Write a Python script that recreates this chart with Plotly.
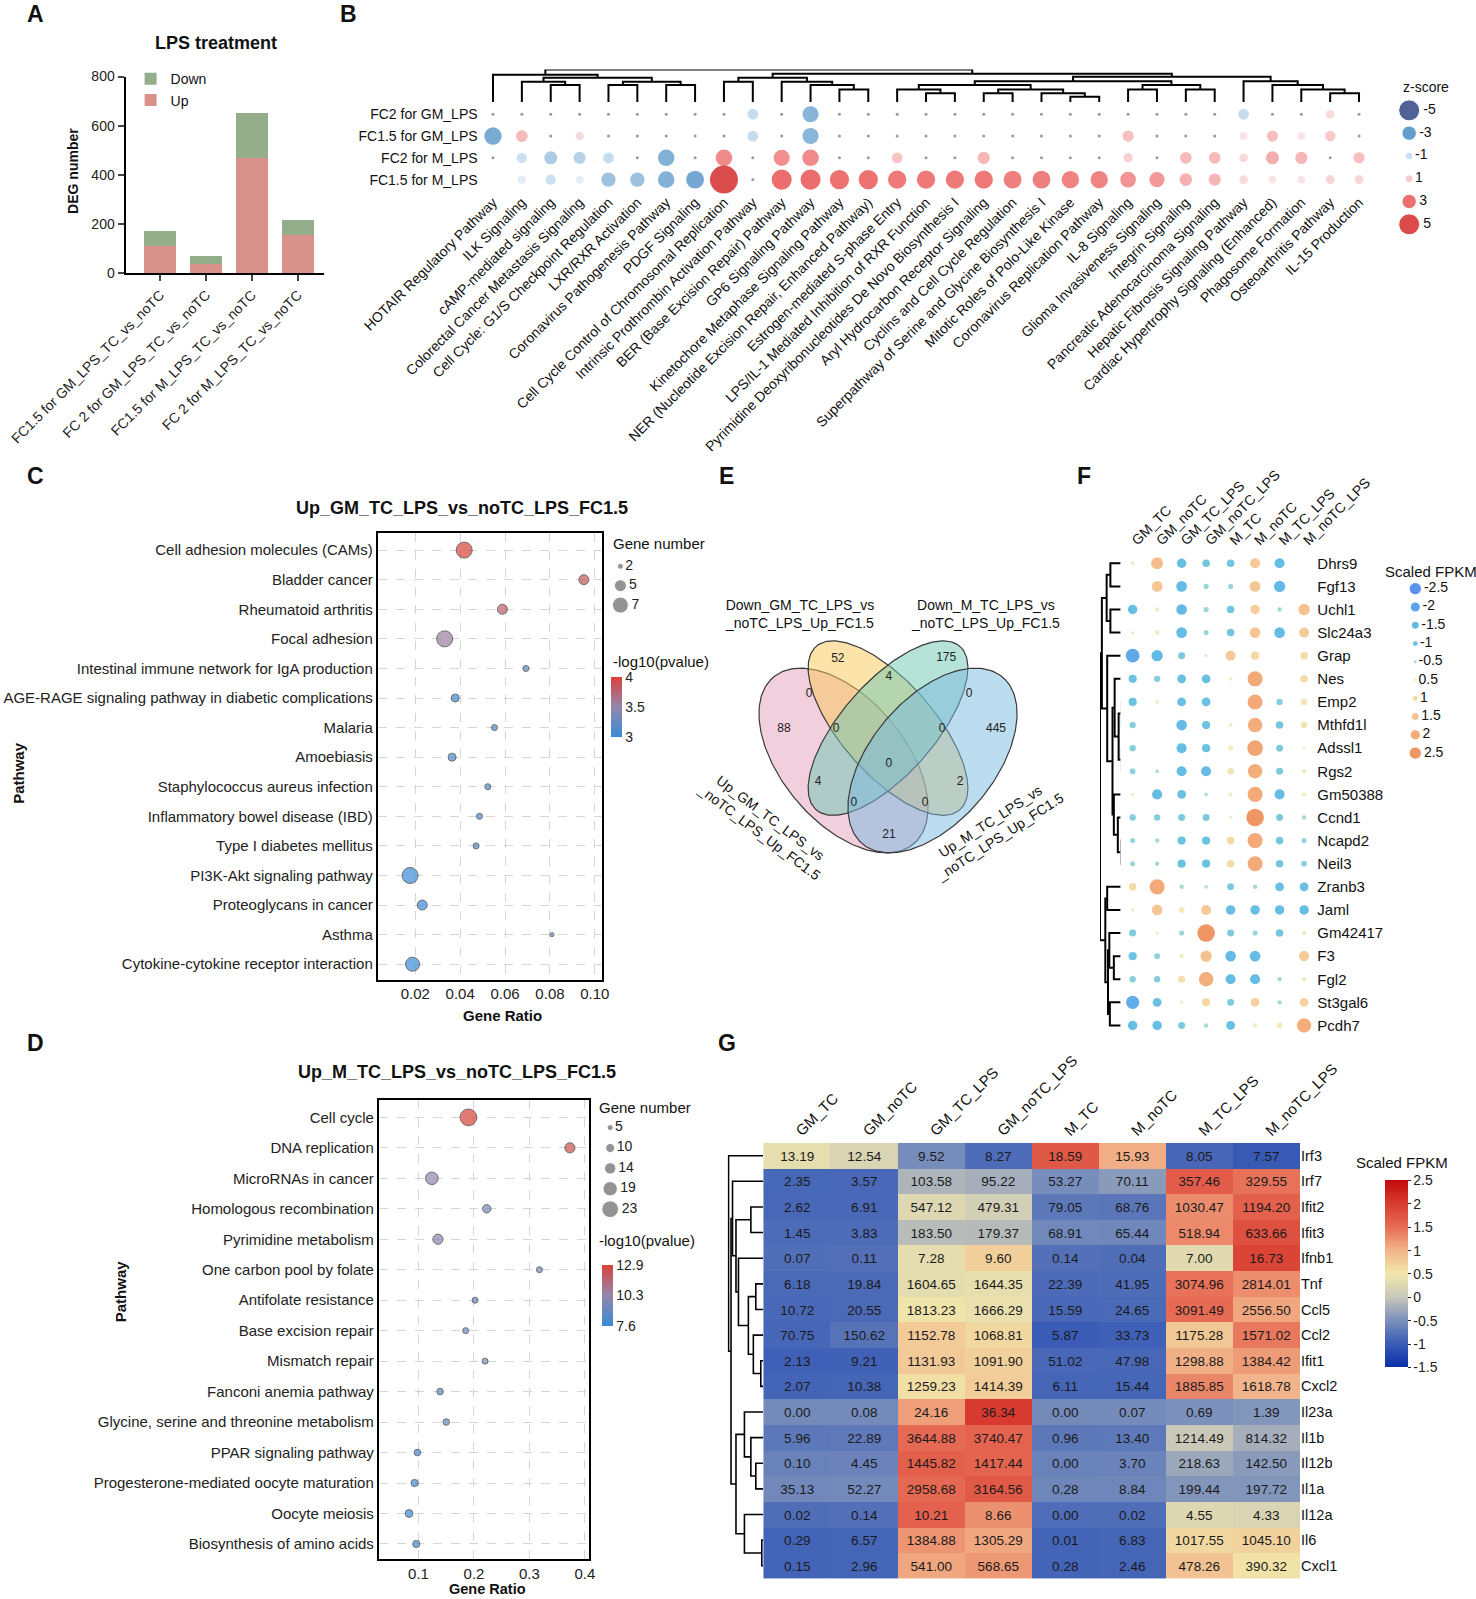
import numpy as np
import plotly.graph_objects as go

W, H = 1476, 1599
SC = 0.98  # positions below are measured on the reference at this display scale
FONT = "Liberation Sans, Arial, sans-serif"
NARROW = "Liberation Sans Narrow, Arial Narrow, Liberation Sans, Arial, sans-serif"

# ---------------- Panel A data ----------------
a_categories = ["FC1.5 for GM_LPS_TC_vs_noTC", "FC 2 for GM_LPS_TC_vs_noTC",
                "FC1.5 for M_LPS_TC_vs_noTC", "FC 2 for M_LPS_TC_vs_noTC"]
a_up = [110, 37, 469, 155]
a_down = [61, 32, 184, 61]

# ---------------- Panel B data ----------------
b_rows = ["FC2 for GM_LPS", "FC1.5 for GM_LPS", "FC2 for M_LPS", "FC1.5 for M_LPS"]
b_pathways = [
    "HOTAIR Regulatory Pathway", "ILK Signaling", "cAMP-mediated signaling",
    "Colorectal Cancer Metastasis Signaling", "Cell Cycle: G1/S Checkpoint Regulation",
    "LXR/RXR Activation", "Coronavirus Pathogenesis Pathway", "PDGF Signaling",
    "Cell Cycle Control of Chromosomal Replication", "Intrinsic Prothrombin Activation Pathway",
    "BER (Base Excision Repair) Pathway", "GP6 Signaling Pathway",
    "Kinetochore Metaphase Signaling Pathway", "NER (Nucleotide Excision Repair, Enhanced Pathway)",
    "Estrogen-mediated S-phase Entry", "LPS/IL-1 Mediated Inhibition of RXR Function",
    "Pyrimidine Deoxyribonucleotides De Novo Biosynthesis I", "Aryl Hydrocarbon Receptor Signaling",
    "Cyclins and Cell Cycle Regulation", "Superpathway of Serine and Glycine Biosynthesis I",
    "Mitotic Roles of Polo-Like Kinase", "Coronavirus Replication Pathway", "IL-8 Signaling",
    "Glioma Invasiveness Signaling", "Integrin Signaling", "Pancreatic Adenocarcinoma Signaling",
    "Hepatic Fibrosis Signaling Pathway", "Cardiac Hypertrophy Signaling (Enhanced)",
    "Phagosome Formation", "Osteoarthritis Pathway", "IL-15 Production"]
# z-scores (0 = not significant tiny dot, None = absent)
b_fc2_gm = [0, 0, 0, 0, 0, 0, 0, 0, 0, -1.1, 0, -2.3, 0, 0, 0, 0, 0, 0, 0, 0, 0, 0, 0, 0, 0, 0, -1.1, 0, 0, 0.6, 0]
b_fc15_gm = [-2.6, 1.3, 0, 0.6, 0, 0, 0, 0, 0, -1.1, 0, -2.3, 0, 0, 0, 0, 0, 0, 0, 0, 0, 0, 1.2, 0, 0, 0, 0.4, 1.2, 0.4, 1.0, 0]
b_fc2_m = [0, -1.0, -1.6, -1.4, -1.1, 0, -2.4, 0, 2.4, 0, 2.3, 2.4, 0, 0, 1.1, 0, 0, 1.4, 0, 0, 0, 0, 0.8, 0, 1.3, 1.3, 0.6, 1.6, 1.4, 0, 1.2]
b_fc15_m = [None, -0.5, -1.0, -0.4, -1.9, -1.9, -2.4, -2.7, 5.0, 0, 3.2, 3.2, 3.0, 3.0, 2.8, 2.8, 2.8, 2.8, 2.7, 2.7, 2.6, 2.6, 2.2, 2.1, 1.5, 1.4, 0.6, 0.4, 0.4, 0.7, 0.7]
b_legend = [-5, -3, -1, 1, 3, 5]
# column dendrogram: [left, right, height]
b_tree = [[1, [[2, [3, 4, 57], 68], [[5, 6, 57], [7, 8, 57], 68], 82], 92],
          [[[9, 10, 68], [11, [12, [13, 14, 42], 57], 68], 82],
           [[[[15, [16, 17, 30], 42], [[18, 19, 30], [20, [21, 22, 18], 30], 42], 57],
             [[23, 24, 42], [25, 26, 42], 57], 70],
            [27, [28, [29, [30, 31, 30], 42], 57], 70], 85], 95], 110]

# ---------------- Panel C data ----------------
c_pathways = ["Cell adhesion molecules (CAMs)", "Bladder cancer", "Rheumatoid arthritis", "Focal adhesion",
              "Intestinal immune network for IgA production",
              "AGE-RAGE signaling pathway in diabetic complications", "Malaria", "Amoebiasis",
              "Staphylococcus aureus infection", "Inflammatory bowel disease (IBD)",
              "Type I diabetes mellitus", "PI3K-Akt signaling pathway", "Proteoglycans in cancer",
              "Asthma", "Cytokine-cytokine receptor interaction"]
c_ratio = [0.0418, 0.0951, 0.0588, 0.0331, 0.0693, 0.0378, 0.0553, 0.0364, 0.0523, 0.0486,
           0.0471, 0.0177, 0.0231, 0.0809, 0.0188]
c_count = [7, 4, 4, 7, 2, 3, 2, 3, 2, 2, 2, 7, 4, 1, 6]
c_logp = [4.0, 3.85, 3.8, 3.55, 3.2, 3.05, 3.15, 3.1, 3.15, 3.1, 3.1, 3.0, 3.0, 3.3, 3.0]
c_size_legend = [2, 5, 7]

# ---------------- Panel D data ----------------
d_pathways = ["Cell cycle", "DNA replication", "MicroRNAs in cancer", "Homologous recombination",
              "Pyrimidine metabolism", "One carbon pool by folate", "Antifolate resistance",
              "Base excision repair", "Mismatch repair", "Fanconi anemia pathway",
              "Glycine, serine and threonine metabolism", "PPAR signaling pathway",
              "Progesterone-mediated oocyte maturation", "Oocyte meiosis", "Biosynthesis of amino acids"]
d_ratio = [0.190, 0.373, 0.124, 0.223, 0.135, 0.318, 0.202, 0.185, 0.220, 0.139, 0.150, 0.098,
           0.093, 0.083, 0.096]
d_count = [23, 12, 16, 9, 12, 5, 5, 5, 5, 6, 6, 6, 7, 8, 7]
d_logp = [12.9, 12.4, 10.3, 9.4, 9.9, 9.3, 8.9, 8.8, 9.3, 8.6, 8.8, 7.9, 7.8, 7.6, 7.8]
d_size_legend = [5, 10, 14, 19, 23]

# ---------------- Panel E data ----------------
venn_sets = ["Up_GM_TC_LPS_vs<br>_noTC_LPS_Up_FC1.5", "Down_GM_TC_LPS_vs<br>_noTC_LPS_Up_FC1.5",
             "Down_M_TC_LPS_vs<br>_noTC_LPS_Up_FC1.5", "Up_M_TC_LPS_vs<br>_noTC_LPS_Up_FC1.5"]
venn_counts = [52, 175, 4, 0, 0, 88, 0, 0, 445, 0, 4, 2, 0, 0, 21]

# ---------------- Panel F data ----------------
f_samples = ["GM_TC", "GM_noTC", "GM_TC_LPS", "GM_noTC_LPS", "M_TC", "M_noTC", "M_TC_LPS", "M_noTC_LPS"]
f_genes = ["Dhrs9", "Fgf13", "Uchl1", "Slc24a3", "Grap", "Nes", "Emp2", "Mthfd1l", "Adssl1", "Rgs2",
           "Gm50388", "Ccnd1", "Ncapd2", "Neil3", "Zranb3", "Jaml", "Gm42417", "F3", "Fgl2",
           "St3gal6", "Pcdh7"]
f_scaled = [
    [0.3, 1.6, -1.2, -0.9, -0.9, 1.3, -1.3, 0.0],
    [0.0, 1.4, -1.4, -0.5, -0.5, 1.4, -1.5, 0.0],
    [-1.2, 0.4, -1.4, -0.5, -0.9, 1.2, -0.4, 1.5],
    [0.2, 0.4, -1.4, -0.5, -0.9, 1.4, -1.4, 1.3],
    [-1.9, -1.5, -0.8, 0.2, 1.3, 1.0, 0.0, 0.9],
    [-1.0, -0.7, -1.1, -1.1, 0.3, 2.1, 0.0, 0.9],
    [-1.0, 0.3, -1.1, -1.1, 0.0, 2.1, -0.7, 0.7],
    [-0.7, 0.0, -1.4, -1.0, 0.3, 2.0, -0.9, 0.7],
    [-0.7, 0.0, -1.3, -1.0, 0.5, 2.2, -0.8, 0.1],
    [-0.6, -0.3, -1.3, -1.3, 0.7, 2.0, -0.8, 0.4],
    [0.2, -1.3, -1.1, -0.3, 0.3, 2.1, -1.3, 0.4],
    [-0.7, -0.7, -0.8, -0.8, 0.2, 2.5, -0.8, -0.4],
    [-0.5, -0.4, -1.0, -1.0, 0.9, 2.1, -0.9, -0.5],
    [-0.5, -0.4, -1.0, -1.0, 0.9, 2.1, -0.9, -0.6],
    [0.9, 2.1, -0.4, -0.3, -0.8, -0.4, -1.1, -1.1],
    [0.2, 1.4, 0.6, 1.3, -1.2, -1.2, -1.2, -1.2],
    [-0.8, 0.2, -0.5, 2.5, -0.8, -0.5, -0.9, 0.4],
    [-1.0, -0.6, 0.4, 1.5, -1.4, -1.4, 0.0, 1.3],
    [-0.7, -0.7, 0.8, 2.0, -1.3, -1.3, -0.4, 0.4],
    [-1.8, -1.1, 0.2, 1.0, -0.8, 1.1, -0.4, 1.1],
    [-1.2, -1.2, -0.8, -0.4, -1.1, 0.4, 0.6, 2.0],
]
f_legend = [-2.5, -2, -1.5, -1, -0.5, 0.5, 1, 1.5, 2, 2.5]
f_tree = [[[["Dhrs9", "Fgf13", 53], ["Uchl1", "Slc24a3", 53], 67],
           ["Grap", [["Nes", [["Emp2", "Mthfd1l", 10], ["Adssl1", "Rgs2", 10], 22], 37],
                     ["Gm50388", ["Ccnd1", ["Ncapd2", "Neil3", 12], 25], 40], 45], 65], 85],
          [["Zranb3", "Jaml", 65],
           [["Gm42417", ["F3", "Fgl2", 40], 57], ["St3gal6", "Pcdh7", 55], 62], 72], 92]

# ---------------- Panel G data ----------------
g_samples = ["GM_TC", "GM_noTC", "GM_TC_LPS", "GM_noTC_LPS", "M_TC", "M_noTC", "M_TC_LPS", "M_noTC_LPS"]
g_genes = ["Irf3", "Irf7", "Ifit2", "Ifit3", "Ifnb1", "Tnf", "Ccl5", "Ccl2", "Ifit1", "Cxcl2",
           "Il23a", "Il1b", "Il12b", "Il1a", "Il12a", "Il6", "Cxcl1"]
g_fpkm = [
    [13.19, 12.54, 9.52, 8.27, 18.59, 15.93, 8.05, 7.57],
    [2.35, 3.57, 103.58, 95.22, 53.27, 70.11, 357.46, 329.55],
    [2.62, 6.91, 547.12, 479.31, 79.05, 68.76, 1030.47, 1194.20],
    [1.45, 3.83, 183.50, 179.37, 68.91, 65.44, 518.94, 633.66],
    [0.07, 0.11, 7.28, 9.60, 0.14, 0.04, 7.00, 16.73],
    [6.18, 19.84, 1604.65, 1644.35, 22.39, 41.95, 3074.96, 2814.01],
    [10.72, 20.55, 1813.23, 1666.29, 15.59, 24.65, 3091.49, 2556.50],
    [70.75, 150.62, 1152.78, 1068.81, 5.87, 33.73, 1175.28, 1571.02],
    [2.13, 9.21, 1131.93, 1091.90, 51.02, 47.98, 1298.88, 1384.42],
    [2.07, 10.38, 1259.23, 1414.39, 6.11, 15.44, 1885.85, 1618.78],
    [0.00, 0.08, 24.16, 36.34, 0.00, 0.07, 0.69, 1.39],
    [5.96, 22.89, 3644.88, 3740.47, 0.96, 13.40, 1214.49, 814.32],
    [0.10, 4.45, 1445.82, 1417.44, 0.00, 3.70, 218.63, 142.50],
    [35.13, 52.27, 2958.68, 3164.56, 0.28, 8.84, 199.44, 197.72],
    [0.02, 0.14, 10.21, 8.66, 0.00, 0.02, 4.55, 4.33],
    [0.29, 6.57, 1384.88, 1305.29, 0.01, 6.83, 1017.55, 1045.10],
    [0.15, 2.96, 541.00, 568.65, 0.28, 2.46, 478.26, 390.32],
]
g_cbar_ticks = [-1.5, -1, -0.5, 0, 0.5, 1, 1.5, 2, 2.5]
g_tree = ["Irf3",
          [["Irf7", [["Ifit2", "Ifit3", 25],
                     ["Ifnb1", [["Tnf", "Ccl5", 15], ["Ccl2", ["Ifit1", "Cxcl2", 5], 20], 30], 50], 55], 62],
           [["Il23a", ["Il1b", ["Il12b", "Il1a", 15], 25], 38], ["Il12a", ["Il6", "Cxcl1", 3], 38], 55], 65],
          70]


# ---------------- helpers (coordinates given in reference display pixels) ----------------
def px_x(a):
    return a / (W * SC)


def px_y(b):
    return 1 - b / (H * SC)


def dom_x(a, b):
    return [px_x(a), px_x(b)]


def dom_y(top, bottom):
    return [px_y(bottom), px_y(top)]


def pxl(n):
    return n / SC


def dendro_lines(tree, pos):
    seg_p, seg_h = [], []

    def walk(node):
        if isinstance(node, list):
            left, right, h = node
            pl, hl = walk(left)
            pr, hr = walk(right)
            seg_p.extend([pl, pl, pr, pr, None])
            seg_h.extend([hl, h, h, hr, None])
            return (pl + pr) / 2, h
        return pos[node], 0

    walk(tree)
    return seg_p, seg_h


def b_size(z):
    return 6 + 4.4 * abs(z)


def f_size(v):
    return 2 + 6.2 * abs(v) if abs(v) > 0.05 else 0


def c_size(n):
    return 2 + 2 * n


def d_size(n):
    return 3 + 0.6 * n


B_SCALE = [[0.0, "#08216b"], [0.2, "#2474b7"], [0.4, "#b5d3ea"], [0.5, "#f4f4f4"],
           [0.6, "#f6b0b0"], [0.8, "#e63434"], [1.0, "#cc0000"]]
CD_SCALE = [[0.0, "#3a8bd6"], [0.5, "#9486ac"], [1.0, "#d8433a"]]
F_SCALE = [[0.0, "#1463e6"], [0.1, "#1a7fe0"], [0.2, "#1f9bdb"], [0.3, "#2ca9d4"], [0.4, "#6cc3c8"],
           [0.5, "#d2e6c0"], [0.6, "#ede7a3"], [0.7, "#f2c47c"], [0.8, "#f2a761"], [0.9, "#ef8b45"],
           [1.0, "#ea6a22"]]
G_SCALE = [[0.0, "#0b2ea8"], [0.125, "#3a5cb6"], [0.25, "#7b90bb"], [0.375, "#c8c8ba"],
           [0.5, "#f1e6aa"], [0.625, "#f2b48a"], [0.75, "#e66c55"], [0.875, "#d83a30"], [1.0, "#c20a0a"]]

fig = go.Figure()

# ---------------- A ----------------
xa = list(range(len(a_categories)))
fig.add_trace(go.Bar(x=xa, y=a_up, name="Up", marker=dict(color="#d8918b", line=dict(width=0)),
                     width=0.69, xaxis="x", yaxis="y", showlegend=True))
fig.add_trace(go.Bar(x=xa, y=a_down, name="Down", marker=dict(color="#94ad8b", line=dict(width=0)),
                     width=0.69, xaxis="x", yaxis="y", showlegend=True))

# ---------------- B ----------------
bp, bh = dendro_lines(b_tree, {i: i for i in range(1, 32)})
fig.add_trace(go.Scatter(x=bp, y=bh, mode="lines", line=dict(color="black", width=2),
                         xaxis="x2", yaxis="y2", hoverinfo="skip", showlegend=False))
b_matrix = [b_fc2_gm, b_fc15_gm, b_fc2_m, b_fc15_m]
tx, ty, cx, cy, cz = [], [], [], [], []
for r, row in enumerate(b_matrix):
    for c, v in enumerate(row):
        if v is None:
            continue
        if v == 0:
            tx.append(c + 1)
            ty.append(r + 1)
        else:
            cx.append(c + 1)
            cy.append(r + 1)
            cz.append(v)
fig.add_trace(go.Scatter(x=tx, y=ty, mode="markers", marker=dict(size=3, color="#9a9a9a"),
                         xaxis="x3", yaxis="y3", showlegend=False, cliponaxis=False))
fig.add_trace(go.Scatter(x=cx, y=cy, mode="markers",
                         marker=dict(size=[b_size(z) for z in cz], color=cz, colorscale=B_SCALE,
                                     cmin=-5, cmax=5, line=dict(width=0)),
                         xaxis="x3", yaxis="y3", showlegend=False, cliponaxis=False))
fig.add_trace(go.Scatter(x=[0] * len(b_legend), y=list(range(len(b_legend))), mode="markers+text",
                         text=[str(v) for v in b_legend], textposition="middle right",
                         textfont=dict(size=14, family=FONT, color="#111"),
                         marker=dict(size=[b_size(z) * 0.75 for z in b_legend], color=b_legend,
                                     colorscale=B_SCALE, cmin=-5, cmax=5),
                         xaxis="x4", yaxis="y4", showlegend=False, cliponaxis=False))

# ---------------- C ----------------
fig.add_trace(go.Scatter(
    x=c_ratio, y=list(range(len(c_pathways))), mode="markers",
    marker=dict(size=[c_size(n) for n in c_count], color=c_logp, colorscale=CD_SCALE, cmin=3, cmax=4,
                line=dict(color="#333333", width=1),
                colorbar=dict(x=px_x(599), xanchor="left", y=px_y(692.5), yanchor="middle",
                              len=pxl(59), lenmode="pixels", thickness=pxl(11), thicknessmode="pixels",
                              tickvals=[3, 3.5, 4], ticktext=["3", "3.5", "4"], ticks="",
                              tickfont=dict(size=14, family=NARROW, color="#222"),
                              outlinewidth=0, xpad=0, ypad=0)),
    xaxis="x5", yaxis="y5", showlegend=False, cliponaxis=False))
fig.add_trace(go.Scatter(x=[0] * 3, y=list(range(3)), mode="markers+text",
                         text=[str(v) for v in c_size_legend], textposition="middle right",
                         textfont=dict(size=14, family=NARROW, color="#222"),
                         marker=dict(size=[c_size(n) for n in c_size_legend], color="#666666"),
                         xaxis="x6", yaxis="y6", showlegend=False, cliponaxis=False))

# ---------------- D ----------------
fig.add_trace(go.Scatter(
    x=d_ratio, y=list(range(len(d_pathways))), mode="markers",
    marker=dict(size=[d_size(n) for n in d_count], color=d_logp, colorscale=CD_SCALE, cmin=7.6, cmax=12.9,
                line=dict(color="#333333", width=1),
                colorbar=dict(x=px_x(590), xanchor="left", y=px_y(1270), yanchor="middle",
                              len=pxl(60), lenmode="pixels", thickness=pxl(11), thicknessmode="pixels",
                              tickvals=[7.6, 10.3, 12.9], ticktext=["7.6", "10.3", "12.9"], ticks="",
                              tickfont=dict(size=14, family=NARROW, color="#222"),
                              outlinewidth=0, xpad=0, ypad=0)),
    xaxis="x7", yaxis="y7", showlegend=False, cliponaxis=False))
fig.add_trace(go.Scatter(x=[0] * 5, y=list(range(5)), mode="markers+text",
                         text=[str(v) for v in d_size_legend], textposition="middle right",
                         textfont=dict(size=14, family=NARROW, color="#222"),
                         marker=dict(size=[d_size(n) for n in d_size_legend], color="#666666"),
                         xaxis="x8", yaxis="y8", showlegend=False, cliponaxis=False))

# ---------------- E (Venn) ----------------
venn_ellipses = [(0.35, 0.47, 0.35, 0.20, 135, "rgba(227,160,185,0.5)"),
                 (0.50, 0.57, 0.35, 0.15, 135, "rgba(247,200,85,0.5)"),
                 (0.50, 0.57, 0.35, 0.15, 45, "rgba(110,200,178,0.5)"),
                 (0.65, 0.47, 0.35, 0.20, 45, "rgba(121,185,223,0.5)")]
t = np.linspace(0, 2 * np.pi, 240)
for (ex, ey, ea, eb, eang, ecol) in venn_ellipses:
    th = np.deg2rad(eang)
    xs = ex + ea * np.cos(t) * np.cos(th) - eb * np.sin(t) * np.sin(th)
    ys = ey + ea * np.cos(t) * np.sin(th) + eb * np.sin(t) * np.cos(th)
    fig.add_trace(go.Scatter(x=xs, y=ys, mode="lines", fill="toself", fillcolor=ecol,
                             line=dict(color="#3a3a3a", width=1.2), xaxis="x9", yaxis="y9",
                             hoverinfo="skip", showlegend=False))
venn_pos = [(0.331, 0.783), (0.696, 0.787), (0.503, 0.728), (0.234, 0.675), (0.773, 0.675),
            (0.149, 0.567), (0.325, 0.567), (0.682, 0.567), (0.864, 0.567), (0.503, 0.459),
            (0.264, 0.404), (0.743, 0.404), (0.385, 0.339), (0.625, 0.339), (0.503, 0.240)]
fig.add_trace(go.Scatter(x=[p[0] for p in venn_pos], y=[p[1] for p in venn_pos], mode="text",
                         text=[str(v) for v in venn_counts], textfont=dict(size=12, family=FONT, color="#222"),
                         xaxis="x9", yaxis="y9", showlegend=False, hoverinfo="skip"))

# ---------------- F ----------------
f_pos = {g: i for i, g in enumerate(f_genes)}
fh, fp = dendro_lines(f_tree, f_pos)
fig.add_trace(go.Scatter(x=fp, y=fh, mode="lines", line=dict(color="black", width=2),
                         xaxis="x10", yaxis="y10", hoverinfo="skip", showlegend=False))
fx_, fy_, fv_ = [], [], []
for r, row in enumerate(f_scaled):
    for c, v in enumerate(row):
        fx_.append(c)
        fy_.append(r)
        fv_.append(v)
fig.add_trace(go.Scatter(x=fx_, y=fy_, mode="markers",
                         marker=dict(size=[f_size(v) for v in fv_], color=fv_, colorscale=F_SCALE,
                                     cmin=-2.5, cmax=2.5, line=dict(width=0)),
                         xaxis="x11", yaxis="y11", showlegend=False, cliponaxis=False))
fig.add_trace(go.Scatter(x=[0] * len(f_legend), y=list(range(len(f_legend))), mode="markers+text",
                         text=[("%g" % v) for v in f_legend], textposition="middle right",
                         textfont=dict(size=14, family=FONT, color="#111"),
                         marker=dict(size=[f_size(v) * 0.7 for v in f_legend], color=f_legend,
                                     colorscale=F_SCALE, cmin=-2.5, cmax=2.5),
                         xaxis="x12", yaxis="y12", showlegend=False, cliponaxis=False))

# ---------------- G ----------------
g_pos = {g: i for i, g in enumerate(g_genes)}
gh, gp = dendro_lines(g_tree, g_pos)
fig.add_trace(go.Scatter(x=gp, y=gh, mode="lines", line=dict(color="black", width=1.6),
                         xaxis="x13", yaxis="y13", hoverinfo="skip", showlegend=False))
g_arr = np.array(g_fpkm)
g_z = (g_arr - g_arr.mean(axis=1, keepdims=True)) / g_arr.std(axis=1, ddof=1, keepdims=True)
fig.add_trace(go.Heatmap(
    z=g_z, x=list(range(len(g_samples))), y=list(range(len(g_genes))),
    text=[["%.2f" % v for v in row] for row in g_fpkm], texttemplate="%{text}",
    textfont=dict(size=13.5, family=NARROW, color="#1a1a1a"),
    colorscale=G_SCALE, zmin=-1.5, zmax=2.5, xgap=0, ygap=0,
    colorbar=dict(x=px_x(1357), xanchor="left", y=px_y(1248.5), yanchor="middle",
                  len=pxl(183), lenmode="pixels", thickness=pxl(23), thicknessmode="pixels",
                  tickvals=g_cbar_ticks, ticktext=["%g" % v for v in g_cbar_ticks],
                  ticks="outside", ticklen=3, tickcolor="#222",
                  tickfont=dict(size=14, family=NARROW, color="#222"), outlinewidth=0, xpad=0, ypad=0),
    xaxis="x14", yaxis="y14", showlegend=False))


# ---------------- layout ----------------
def ax(domain, anchor, **kw):
    d = dict(domain=domain, anchor=anchor, showgrid=False, zeroline=False, showline=False, ticks="",
             showticklabels=False, fixedrange=True)
    d.update(kw)
    return d


grid_kw = dict(showgrid=True, gridcolor="#d6d6d6", griddash="dash", gridwidth=1,
               showline=True, mirror=True, linecolor="black", linewidth=1.5)

layout_axes = dict(
    xaxis=ax(dom_x(123, 318), "y", range=[-0.756, 3.58], tickvals=xa, ticktext=a_categories,
             showticklabels=True, tickangle=-45, ticks="outside", ticklen=6, tickwidth=2,
             showline=True, linewidth=2, linecolor="black",
             tickfont=dict(size=14, family=FONT, color="#222")),
    yaxis=ax(dom_y(75, 268), "x", range=[0, 800], tickvals=[0, 200, 400, 600, 800], showticklabels=True,
             ticks="outside", ticklen=6, tickwidth=2, showline=True, linewidth=2, linecolor="black",
             tickfont=dict(size=14, family=FONT, color="#222")),
    xaxis2=ax(dom_x(469, 1346), "y2", range=[0.5, 31.5]),
    yaxis2=ax(dom_y(68, 100), "x2", range=[0, 110]),
    xaxis3=ax(dom_x(469, 1346), "y3", range=[0.5, 31.5], tickvals=list(range(1, 32)), ticktext=b_pathways,
              showticklabels=True, tickangle=-45, tickfont=dict(size=14, family=FONT, color="#111")),
    yaxis3=ax(dom_y(101.3, 186.7), "x3", range=[4.5, 0.5], tickvals=[1, 2, 3, 4], ticktext=b_rows,
              showticklabels=True, tickfont=dict(size=14, family=FONT, color="#111")),
    xaxis4=ax(dom_x(1370, 1392), "y4", range=[-1, 1]),
    yaxis4=ax(dom_y(97, 231), "x4", range=[5.5, -0.5]),
    xaxis5=ax(dom_x(370, 590), "y5", range=[0.0032, 0.1032], tickvals=[0.02, 0.04, 0.06, 0.08, 0.10],
              ticktext=["0.02", "0.04", "0.06", "0.08", "0.10"], showticklabels=True,
              tickfont=dict(size=15, family=NARROW, color="#222"), **grid_kw),
    yaxis5=ax(dom_y(522, 960), "x5", range=[14.52, -0.59], tickvals=list(range(15)), ticktext=c_pathways,
              showticklabels=True, tickfont=dict(size=15, family=NARROW, color="#222"), **grid_kw),
    xaxis6=ax(dom_x(598, 618), "y6", range=[-1, 1]),
    yaxis6=ax(dom_y(545.5, 602.5), "x6", range=[2.5, -0.5]),
    xaxis7=ax(dom_x(371, 577), "y7", range=[0.028, 0.407], tickvals=[0.1, 0.2, 0.3, 0.4],
              ticktext=["0.1", "0.2", "0.3", "0.4"], showticklabels=True,
              tickfont=dict(size=15, family=NARROW, color="#222"), **grid_kw),
    yaxis7=ax(dom_y(1078, 1528), "x7", range=[14.5, -0.57], tickvals=list(range(15)), ticktext=d_pathways,
              showticklabels=True, tickfont=dict(size=15, family=NARROW, color="#222"), **grid_kw),
    xaxis8=ax(dom_x(588, 608), "y8", range=[-1, 1]),
    yaxis8=ax(dom_y(1095, 1195), "x8", range=[4.5, -0.5]),
    xaxis9=ax(dom_x(724.9, 1015.6), "y9", range=[0, 1]),
    yaxis9=ax(dom_y(577.0, 894.5), "x9", range=[0, 1]),
    xaxis10=ax(dom_x(1078, 1102), "y10", range=[92, 0]),
    yaxis10=ax(dom_y(540.7, 1016.3), "x10", range=[20.5, -0.5]),
    xaxis11=ax(dom_x(1098, 1290), "y11", range=[-0.5, 7.5], side="top", tickvals=list(range(8)),
               ticktext=f_samples, showticklabels=True, tickangle=-45,
               tickfont=dict(size=14, family=FONT, color="#111")),
    yaxis11=ax(dom_y(540.7, 1016.3), "x11", range=[20.5, -0.5], side="right", tickvals=list(range(21)),
               ticktext=f_genes, showticklabels=True, tickfont=dict(size=15, family=FONT, color="#111")),
    xaxis12=ax(dom_x(1377, 1397), "y12", range=[-1, 1]),
    yaxis12=ax(dom_y(568, 747), "x12", range=[9.5, -0.5]),
    xaxis13=ax(dom_x(713, 748), "y13", range=[72, 0]),
    yaxis13=ax(dom_y(1120, 1547), "x13", range=[16.5, -0.5]),
    xaxis14=ax(dom_x(748, 1274), "y14", range=[-0.5, 7.5], side="top", tickvals=list(range(8)),
               ticktext=g_samples, showticklabels=True, tickangle=-45,
               tickfont=dict(size=15, family=FONT, color="#111")),
    yaxis14=ax(dom_y(1120, 1547), "x14", range=[16.5, -0.5], side="right", tickvals=list(range(17)),
               ticktext=g_genes, showticklabels=True, tickfont=dict(size=14.5, family=NARROW, color="#111")),
)


def label(x, y, text, size=14, bold=False, xanchor="center", angle=0, family=FONT, color="#111"):
    return dict(x=px_x(x), y=px_y(y), xref="paper", yref="paper",
                text=("<b>%s</b>" % text) if bold else text, showarrow=False,
                font=dict(size=size, family=family, color=color), xanchor=xanchor, yanchor="middle",
                textangle=angle)


annotations = [
    label(35, 14, "A", 23, True), label(342, 14, "B", 23, True), label(35, 466, "C", 23, True),
    label(712, 466, "E", 23, True), label(1062, 466, "F", 23, True), label(35, 1022, "D", 23, True),
    label(712, 1022, "G", 23, True),
    label(212, 42, "LPS treatment", 18, True),
    label(72, 167, "DEG number", 14, True, angle=-90),
    label(1397, 85, "z-score", 14),
    label(453, 498, "Up_GM_TC_LPS_vs_noTC_LPS_FC1.5", 18, True, family=NARROW),
    label(492, 995, "Gene Ratio", 15, True, family=NARROW),
    label(18, 757, "Pathway", 15, True, angle=-90, family=NARROW),
    label(599, 533, "Gene number", 15, xanchor="left", family=NARROW),
    label(599, 648, "-log10(pvalue)", 15, xanchor="left", family=NARROW),
    label(448, 1051, "Up_M_TC_LPS_vs_noTC_LPS_FC1.5", 18, True, family=NARROW),
    label(478, 1557, "Gene Ratio", 14.5, True, family=NARROW),
    label(118, 1265, "Pathway", 15, True, angle=-90, family=NARROW),
    label(585, 1085, "Gene number", 15, xanchor="left", family=NARROW),
    label(585, 1216, "-log10(pvalue)", 15, xanchor="left", family=NARROW),
    label(1402, 560, "Scaled FPKM", 15),
    label(1374, 1139, "Scaled FPKM", 15, family=NARROW),
]
venn_label_pos = [(0.085, 0.27, 37), (0.200, 0.922, 0), (0.83, 0.922, 0), (0.86, 0.26, -33)]
for name, (vx, vy, va) in zip(venn_sets, venn_label_pos):
    annotations.append(dict(x=vx, y=vy, xref="x9", yref="y9", text=name, showarrow=False,
                            font=dict(size=14, family=FONT, color="#111"), textangle=va,
                            xanchor="center", yanchor="middle"))

fig.update_layout(
    width=W, height=H, autosize=False, margin=dict(l=0, r=0, t=0, b=0, pad=0),
    template="none", paper_bgcolor="white", plot_bgcolor="white",
    font=dict(family=FONT, color="#111"),
    barmode="stack", bargap=0.3,
    legend=dict(x=px_x(128), y=px_y(62), xanchor="left", yanchor="top", bgcolor="rgba(0,0,0,0)",
                font=dict(size=14, family=FONT), tracegroupgap=0, itemwidth=30, traceorder="reversed"),
    annotations=annotations,
    **layout_axes,
)

fig.write_html("out.html", config={"displayModeBar": False},
               post_script="document.body.style.margin='0px';")
